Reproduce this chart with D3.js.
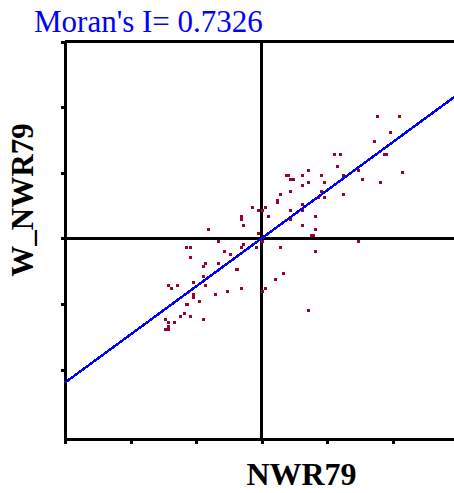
<!DOCTYPE html>
<html lang="en">
<head>
    <meta charset="UTF-8">
    <title>Moran scatter plot</title>
    <script src="https://d3js.org/d3.v7.min.js"></script>
    <style>
body { margin: 0; background: #fff; }
svg { display: block; }
.frame line, .frame path { stroke: #000; stroke-width: 3; shape-rendering: crispEdges; }
    </style>
</head>
<body>
    <svg width="454" height="493"></svg>
    <script>
        // standardized values
        const nwr79 = [1.77, 2.10, 1.96, 1.72, 1.10, 1.20, 1.87, 1.90, 1.15, 0.71, 2.15, 1.48,
            0.37, 0.40, 0.62, 0.91, 1.25, 0.44, 0.48, 1.53, 0.71, 0.96, 1.81, 0.62,
            0.44, 0.91, 0.29, 1.25, 0.87, 0.96, 0.24, 0.24, -0.14, 0.05, -0.05, 0.00,
            0.62, 0.62, 0.44, -0.32, -0.32, 0.10, 0.82, 0.44, -0.28, 0.62, -0.81, 0.82,
            -0.05, 0.76, 0.78, -0.66, 0.00, 1.48, -1.15, -1.09, -0.28, -0.32, -0.09, 0.29,
            -0.57, 0.82, -1.09, -0.48, -0.86, -0.66, -0.90, -0.39, -0.37, 0.33, -0.90, 0.20,
            -1.04, -0.86, -1.42, -1.29, -1.38, -0.32, 0.05, 0.00, -0.52, -1.04, -1.04, -0.71,
            -0.95, -1.15, -1.13, 0.71, -1.19, -1.24, -1.09, -1.47, -0.90, -1.42, -1.34, -1.42,
            -1.47, -1.42];
        const wNwr79 = [1.86, 1.86, 1.62, 1.48, 1.29, 1.29, 1.29, 1.29, 1.10, 1.05, 1.01, 1.05,
            0.96, 0.96, 0.96, 0.96, 0.96, 0.90, 0.90, 0.90, 0.86, 0.86, 0.86, 0.81,
            0.72, 0.72, 0.67, 0.67, 0.63, 0.63, 0.59, 0.56, 0.48, 0.48, 0.43, 0.43,
            0.52, 0.43, 0.43, 0.34, 0.29, 0.34, 0.34, 0.29, 0.20, 0.20, 0.14, 0.14,
            0.09, 0.05, 0.05, -0.04, -0.04, -0.04, -0.13, -0.13, -0.09, -0.13, -0.13, -0.13,
            -0.19, -0.19, -0.29, -0.24, -0.38, -0.38, -0.42, -0.47, -0.47, -0.52, -0.58, -0.62,
            -0.67, -0.71, -0.71, -0.71, -0.76, -0.76, -0.76, -0.80, -0.80, -0.85, -0.90, -0.85,
            -0.96, -1.00, -1.00, -1.09, -1.14, -1.19, -1.19, -1.23, -1.23, -1.28, -1.28, -1.33,
            -1.38, -1.38];
        const moranI = 0.7326;
        const xTicks = [-3, -2, -1, 0, 1, 2, 3];
        const yTicks = [-2, -1, 0, 1, 2, 3];

        const svg = d3.select("svg");

        //Scale
        const xScale = d3.scaleLinear().domain([-3, 3]).range([65, 458]);
        const yScale = d3.scaleLinear().domain([-3.05, 3.01]).range([438.5, 41]);

        const frame = svg.append("g").attr("class", "frame");

        //Top border
        frame.append("line")
            .attr("x1", xScale(-3)).attr("x2", xScale(3))
            .attr("y1", yScale(3.01)).attr("y2", yScale(3.01));

        //Axis
        frame.append("g")
            .attr("transform", `translate(0,${yScale(-3.05)})`)
            .call(d3.axisBottom(xScale).tickValues(xTicks).tickSize(5).tickSizeOuter(0).tickFormat(""));
        frame.append("g")
            .attr("transform", `translate(${xScale(-3)},0)`)
            .call(d3.axisLeft(yScale).tickValues(yTicks).tickSize(4).tickSizeOuter(0).tickFormat(""));

        //Mean lines
        frame.append("line")
            .attr("x1", xScale(0)).attr("x2", xScale(0))
            .attr("y1", yScale(3.01)).attr("y2", yScale(-3.05));
        frame.append("line")
            .attr("x1", xScale(-3)).attr("x2", xScale(3))
            .attr("y1", yScale(0)).attr("y2", yScale(0));

        //Points
        svg.append("g")
            .selectAll("rect")
            .data(nwr79.map((d, i) => [d, wNwr79[i]]))
            .enter()
            .append("rect")
            .attr("x", d => Math.round(xScale(d[0])) - 1)
            .attr("y", d => Math.round(yScale(d[1])) - 1)
            .attr("width", 3)
            .attr("height", 3)
            .attr("fill", "#990033")
            .attr("shape-rendering", "crispEdges");

        //Regression line
        svg.append("line")
            .attr("x1", xScale(-3)).attr("y1", yScale(-3 * moranI))
            .attr("x2", xScale(3)).attr("y2", yScale(3 * moranI))
            .attr("stroke", "#0000ff")
            .attr("stroke-width", 2.5)
            .attr("shape-rendering", "crispEdges");

        //Labels
        svg.append("text")
            .attr("x", 34)
            .attr("y", 32)
            .attr("fill", "#0000ff")
            .style("font-family", "'Liberation Serif'")
            .style("font-size", "31px")
            .text(`Moran's I= ${moranI}`);

        svg.append("text")
            .attr("x", 301.5)
            .attr("y", 485)
            .attr("text-anchor", "middle")
            .style("font-family", "'Liberation Serif'")
            .style("font-weight", "bold")
            .style("font-size", "32px")
            .text("NWR79");

        svg.append("text")
            .attr("transform", "translate(32.5,200) rotate(-90)")
            .attr("text-anchor", "middle")
            .style("font-family", "'Liberation Serif'")
            .style("font-weight", "bold")
            .style("font-size", "31px")
            .text("W_NWR79");
    </script>
</body>
</html>
